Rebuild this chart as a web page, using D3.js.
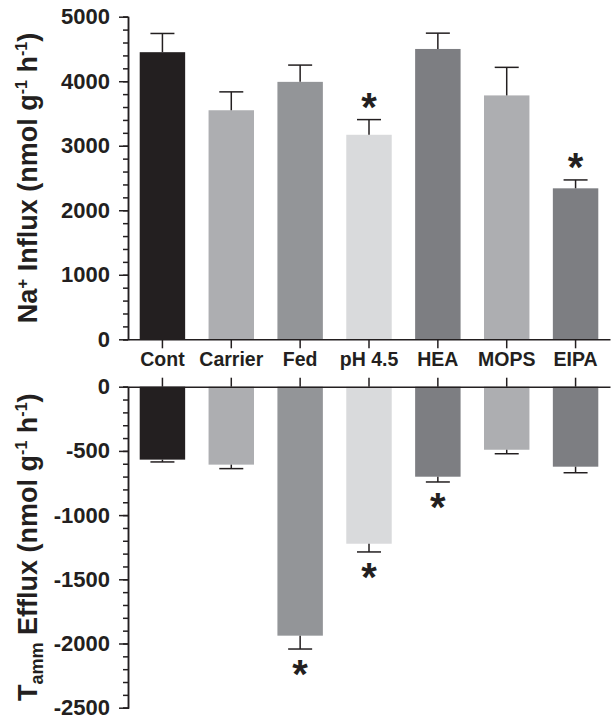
<!DOCTYPE html>
<html>
<head>
<meta charset="utf-8">
<script src="https://cdnjs.cloudflare.com/ajax/libs/d3/7.8.5/d3.min.js"></script>
<style>
  body { margin: 0; background: #fff; }
  text { font-family: "Liberation Sans", Arial, sans-serif; font-weight: bold; fill: #231f20; }
</style>
</head>
<body>
<svg id="chart" width="615" height="716"></svg>
<script>
const categories = ["Cont", "Carrier", "Fed", "pH 4.5", "HEA", "MOPS", "EIPA"];
const barColors = ["#231f20", "#adaeb1", "#939598", "#d9dadc", "#7d7e82", "#adaeb1", "#7d7e82"];

// Na+ influx (top panel)
const influx = [4450, 3550, 3990, 3170, 4500, 3780, 2340];
const influxErr = [290, 285, 260, 235, 245, 435, 130];
const influxSig = [false, false, false, true, false, false, true];

// Tamm efflux (bottom panel)
const efflux = [-568, -607, -1939, -1223, -701, -491, -623];
const effluxErr = [18, 31, 104, 64, 41, 31, 47];
const effluxSig = [false, false, true, true, true, false, false];

const influxTicks = [0, 1000, 2000, 3000, 4000, 5000];
const effluxTicks = [0, -500, -1000, -1500, -2000, -2500];

const ink = "#231f20";
const svg = d3.select("#chart");

const x = d3.scaleBand().domain(categories).range([128, 610]).padding(0);
const barW = x.bandwidth() * 0.66;
const capW = 24;
const cx = d => x(d.cat) + x.bandwidth() / 2;

const yTop = d3.scaleLinear().domain([0, 5000]).range([339.3, 16.7]);
const yBot = d3.scaleLinear().domain([0, -2500]).range([386.7, 707.7]);

const rows = categories.map((c, i) => ({
  cat: c, color: barColors[i],
  inV: influx[i], inE: influxErr[i], inS: influxSig[i],
  outV: efflux[i], outE: effluxErr[i], outS: effluxSig[i]
}));

function styleAxis(g) {
  g.selectAll("path, line").attr("stroke", ink).attr("stroke-width", 1.5);
  g.selectAll("text").attr("fill", ink).style("font-size", "22px");
}

// ---- top panel ----
const topG = svg.append("g");

topG.selectAll("rect.bar")
  .data(rows)
  .enter()
  .append("rect")
  .attr("class", "bar")
  .attr("x", d => x(d.cat) + (x.bandwidth() - barW) / 2)
  .attr("y", d => yTop(d.inV))
  .attr("width", barW)
  .attr("height", d => yTop(0) - yTop(d.inV))
  .attr("fill", d => d.color);

// error bars: stem plus cap
const errTop = topG.selectAll("g.err").data(rows).enter().append("g").attr("class", "err");
errTop.append("line")
  .attr("x1", cx).attr("x2", cx)
  .attr("y1", d => yTop(d.inV))
  .attr("y2", d => yTop(d.inV + d.inE))
  .attr("stroke", ink).attr("stroke-width", 1.5);
errTop.append("line")
  .attr("x1", d => cx(d) - capW / 2)
  .attr("x2", d => cx(d) + capW / 2)
  .attr("y1", d => yTop(d.inV + d.inE))
  .attr("y2", d => yTop(d.inV + d.inE))
  .attr("stroke", ink).attr("stroke-width", 1.5);

// asterisk glyph sits about 0.46em above the baseline
const starSize = 40;
topG.selectAll("text.star")
  .data(rows.filter(d => d.inS))
  .enter()
  .append("text")
  .attr("class", "star")
  .attr("x", cx)
  .attr("y", d => yTop(d.inV + d.inE) - 17 + 0.46 * starSize)
  .attr("text-anchor", "middle")
  .style("font-size", starSize + "px")
  .text("*");

// minor ticks
topG.append("g")
  .attr("transform", "translate(128,0)")
  .call(d3.axisLeft(yTop).tickValues(d3.range(0, 5001, 200)).tickSize(5).tickFormat(""))
  .call(styleAxis);

topG.append("g")
  .attr("transform", "translate(128,0)")
  .call(d3.axisLeft(yTop).tickValues(influxTicks).tickSize(9).tickSizeOuter(0).tickPadding(9).tickFormat(d => String(d)))
  .call(styleAxis);

topG.append("g")
  .attr("transform", "translate(0," + yTop(0) + ")")
  .call(d3.axisBottom(x).tickSize(9).tickSizeOuter(0).tickPadding(4))
  .call(styleAxis)
  .call(g => g.selectAll("text").style("font-size", "19.5px"));

// ---- bottom panel ----
const botG = svg.append("g");

botG.selectAll("rect.bar")
  .data(rows)
  .enter()
  .append("rect")
  .attr("class", "bar")
  .attr("x", d => x(d.cat) + (x.bandwidth() - barW) / 2)
  .attr("y", yBot(0))
  .attr("width", barW)
  .attr("height", d => yBot(d.outV) - yBot(0))
  .attr("fill", d => d.color);

const errBot = botG.selectAll("g.err").data(rows).enter().append("g").attr("class", "err");
errBot.append("line")
  .attr("x1", cx).attr("x2", cx)
  .attr("y1", d => yBot(d.outV))
  .attr("y2", d => yBot(d.outV - d.outE))
  .attr("stroke", ink).attr("stroke-width", 1.5);
errBot.append("line")
  .attr("x1", d => cx(d) - capW / 2)
  .attr("x2", d => cx(d) + capW / 2)
  .attr("y1", d => yBot(d.outV - d.outE))
  .attr("y2", d => yBot(d.outV - d.outE))
  .attr("stroke", ink).attr("stroke-width", 1.5);

botG.selectAll("text.star")
  .data(rows.filter(d => d.outS))
  .enter()
  .append("text")
  .attr("class", "star")
  .attr("x", cx)
  .attr("y", d => yBot(d.outV - d.outE) + 21 + 0.46 * starSize)
  .attr("text-anchor", "middle")
  .style("font-size", starSize + "px")
  .text("*");

botG.append("g")
  .attr("transform", "translate(128,0)")
  .call(d3.axisLeft(yBot).tickValues(d3.range(0, -2501, -100)).tickSize(5).tickFormat(""))
  .call(styleAxis);

botG.append("g")
  .attr("transform", "translate(128,0)")
  .call(d3.axisLeft(yBot).tickValues(effluxTicks).tickSize(9).tickSizeOuter(0).tickPadding(9).tickFormat(d => String(d)))
  .call(styleAxis);

botG.append("g")
  .attr("transform", "translate(0," + yBot(0) + ")")
  .call(d3.axisTop(x).tickSize(9).tickSizeOuter(0).tickFormat(""))
  .call(styleAxis);

// ---- axis titles ----
const t1 = svg.append("text")
  .attr("transform", "translate(37," + (yTop(0) + yTop(5000)) / 2 + ") rotate(-90)")
  .attr("text-anchor", "middle")
  .style("font-size", "27px");
t1.append("tspan").text("Na");
t1.append("tspan").attr("dy", -9).style("font-size", "17px").text("+");
t1.append("tspan").attr("dy", 9).text(" Influx (nmol g");
t1.append("tspan").attr("dy", -10).style("font-size", "16px").text("-1");
t1.append("tspan").attr("dy", 10).text(" h");
t1.append("tspan").attr("dy", -10).style("font-size", "16px").text("-1");
t1.append("tspan").attr("dy", 10).text(")");

const t2 = svg.append("text")
  .attr("transform", "translate(37," + (yBot(0) + yBot(-2500)) / 2 + ") rotate(-90)")
  .attr("text-anchor", "middle")
  .style("font-size", "27px");
t2.append("tspan").text("T");
t2.append("tspan").attr("dy", 6).style("font-size", "18px").text("amm");
t2.append("tspan").attr("dy", -6).text(" Efflux (nmol g");
t2.append("tspan").attr("dy", -10).style("font-size", "16px").text("-1");
t2.append("tspan").attr("dy", 10).text(" h");
t2.append("tspan").attr("dy", -10).style("font-size", "16px").text("-1");
t2.append("tspan").attr("dy", 10).text(")");
</script>
</body>
</html>
